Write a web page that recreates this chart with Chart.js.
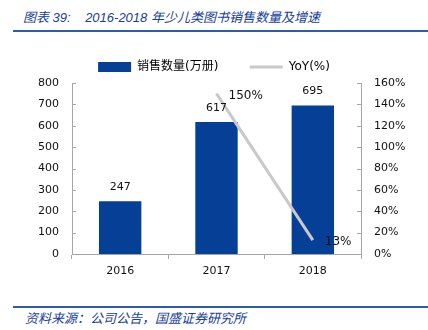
<!DOCTYPE html>
<html>
<head>
<meta charset="utf-8">
<script src="https://cdn.jsdelivr.net/npm/chart.js@4"></script>
<style>
    body { margin: 0; background: #fff; width: 428px; height: 330px; position: relative; overflow: hidden; }
    .title {
        position: absolute; left: 23px; top: 9px;
        font: italic 13px "Liberation Sans", "Noto Sans CJK SC", sans-serif;
        line-height: 18px;
        color: #17409a; white-space: pre;
    }
    .rule { position: absolute; left: 13px; right: 0; height: 2px; background: #2f5ca8; }
    .source {
        position: absolute; left: 25px; top: 309px;
        font: italic 13px "Noto Sans CJK SC", sans-serif; color: #17409a;
        line-height: 18px;
    }
    .chart-box { position: absolute; left: 0; top: 34px; width: 428px; height: 270px; }
</style>
</head>
<body>
<div class="title">图表 39:    2016-2018 年少儿类图书销售数量及增速</div>
<div class="rule" style="top:30px"></div>
<div class="chart-box"><canvas id="chart"></canvas></div>
<div class="rule" style="top:306px"></div>
<div class="source">资料来源：公司公告，国盛证券研究所</div>

<script>
const YEARS = ["2016", "2017", "2018"];
const SALES = [247, 617, 695];          // 销售数量(万册)
const YOY = [null, 150, 13];            // YoY(%)
const SALES_TICKS = [0, 100, 200, 300, 400, 500, 600, 700, 800];
const YOY_TICKS = [0, 20, 40, 60, 80, 100, 120, 140, 160];

const BAR_COLOR = "#053f96";
const LINE_COLOR = "#c9c9c9";
const AXIS_COLOR = "#a6a6a6";
const FONT = "'DejaVu Sans', 'Noto Sans CJK SC', sans-serif";

// value labels + inward tick marks, drawn from the chart's own elements/scales
const labelPlugin = {
    id: "labels",
    afterDatasetsDraw(chart) {
        const ctx = chart.ctx;
        const area = chart.chartArea;
        ctx.save();
        ctx.strokeStyle = AXIS_COLOR;
        ctx.lineWidth = 1;
        ["y", "y1"].forEach((id) => {
            const scale = chart.scales[id];
            scale.ticks.forEach((t, i) => {
                const py = Math.round(scale.getPixelForTick(i)) + 0.5;
                ctx.beginPath();
                if (id === "y") {
                    ctx.moveTo(area.left, py);
                    ctx.lineTo(area.left + 4, py);
                } else {
                    ctx.moveTo(area.right - 4, py);
                    ctx.lineTo(area.right, py);
                }
                ctx.stroke();
            });
        });

        ctx.fillStyle = "#111";
        ctx.textBaseline = "middle";

        ctx.font = "11px " + FONT;
        const bars = chart.getDatasetMeta(1);
        ctx.textAlign = "center";
        bars.data.forEach((el, i) => {
            ctx.fillText(String(SALES[i]), el.x, el.y - 14);
        });

        ctx.font = "12px " + FONT;
        const line = chart.getDatasetMeta(0);
        ctx.textAlign = "left";
        line.data.forEach((el, i) => {
            if (YOY[i] == null) return;
            ctx.fillText(YOY[i] + "%", el.x + 12, el.y + 2);
        });
        ctx.restore();
    },
};

const ctx = document.getElementById("chart").getContext("2d");
new Chart(ctx, {
    data: {
        labels: YEARS,
        datasets: [
            {
                type: "line",
                label: "YoY(%)",
                data: YOY,
                yAxisID: "y1",
                borderColor: LINE_COLOR,
                borderWidth: 3,
                pointRadius: 0,
                tension: 0,
                order: 0,
            },
            {
                type: "bar",
                label: "销售数量(万册)",
                data: SALES,
                yAxisID: "y",
                backgroundColor: BAR_COLOR,
                categoryPercentage: 1,
                barPercentage: 0.44,
                order: 1,
            },
        ],
    },
    options: {
        responsive: true,
        maintainAspectRatio: false,
        animation: false,
        layout: { padding: { top: 11, left: 0, right: 0, bottom: 0 } },
        plugins: {
            tooltip: { enabled: false },
            legend: {
                position: "top",
                labels: {
                    color: "#111",
                    font: { size: 12, family: FONT },
                    usePointStyle: true,
                    pointStyleWidth: 33,
                    boxHeight: 10,
                    padding: 16,
                    generateLabels: () => [
                        { text: "销售数量(万册)    ", fillStyle: BAR_COLOR, strokeStyle: BAR_COLOR,
                          lineWidth: 0, pointStyle: "rect", datasetIndex: 1, hidden: false },
                        { text: "YoY(%)", fillStyle: LINE_COLOR, strokeStyle: LINE_COLOR,
                          lineWidth: 3, pointStyle: "line", datasetIndex: 0, hidden: false },
                    ],
                },
            },
        },
        scales: {
            x: {
                offset: true,
                grid: { drawOnChartArea: false, color: AXIS_COLOR, tickLength: 5 },
                border: { color: AXIS_COLOR },
                ticks: { color: "#111", font: { size: 11, family: FONT }, padding: 6 },
                afterFit: (s) => { s.height = 50; },
            },
            y: {
                position: "left",
                min: 0,
                max: 800,
                afterBuildTicks: (s) => { s.ticks = SALES_TICKS.map((v) => ({ value: v })); },
                grid: { display: false, drawTicks: false },
                border: { display: true, color: AXIS_COLOR },
                ticks: { color: "#111", font: { size: 11, family: FONT }, padding: 13 },
                afterFit: (s) => { s.width = 72; },
            },
            y1: {
                position: "right",
                min: 0,
                max: 160,
                afterBuildTicks: (s) => { s.ticks = YOY_TICKS.map((v) => ({ value: v })); },
                grid: { display: false, drawTicks: false },
                border: { display: true, color: AXIS_COLOR },
                ticks: {
                    color: "#111",
                    font: { size: 11, family: FONT },
                    padding: 13,
                    callback: (v) => v + "%",
                },
                afterFit: (s) => { s.width = 67; },
            },
        },
    },
    plugins: [labelPlugin],
});
</script>
</body>
</html>
